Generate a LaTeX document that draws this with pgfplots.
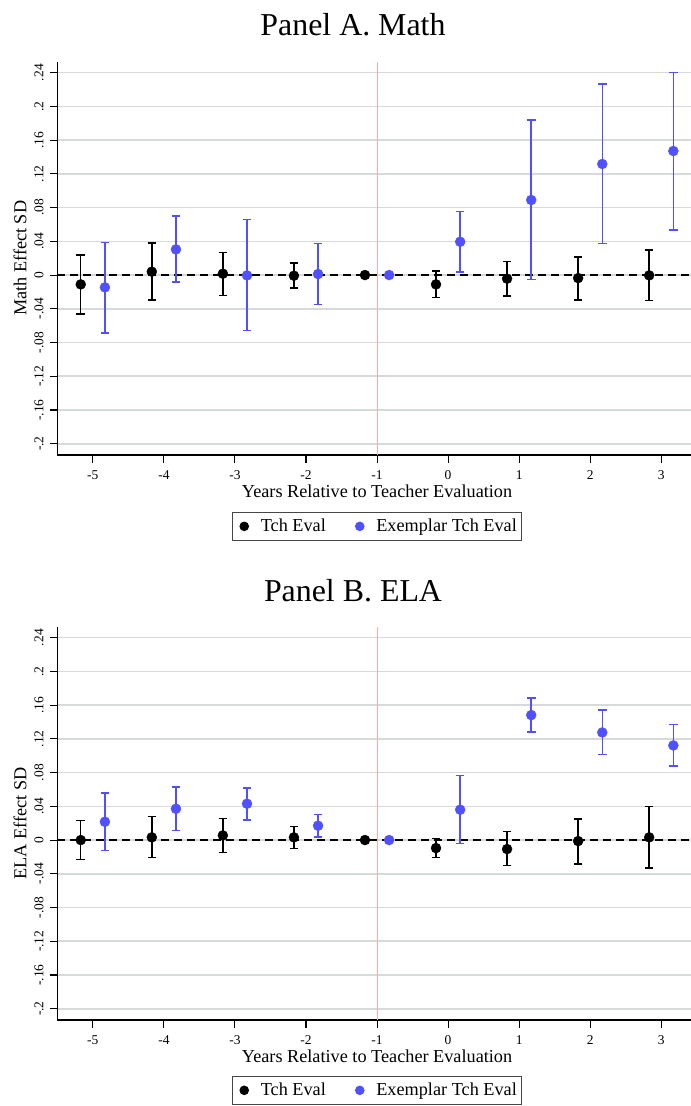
\documentclass[border=0pt]{standalone}
\usepackage{pgfplots}
\pgfplotsset{compat=1.18}
\usepackage{pgfplotstable}
\usepackage{fontspec}
\setmainfont{Liberation Serif}
\definecolor{sblue}{RGB}{80,80,255}
\definecolor{gridc}{RGB}{214,218,218}
\definecolor{vred}{RGB}{255,170,170}
\definecolor{legc}{RGB}{70,70,70}

% Panel A: Math
\pgfplotstableread{
x y hi lo
-5.17 -0.0111 0.0237 -0.0459
-4.17 0.0040 0.0380 -0.0297
-3.17 0.0016 0.0269 -0.0245
-2.17 -0.0008 0.0142 -0.0154
-1.17 0.0000 0.0000 0.0000
-0.17 -0.0111 0.0047 -0.0269
0.83 -0.0043 0.0158 -0.0249
1.83 -0.0036 0.0214 -0.0293
2.83 -0.0004 0.0300 -0.0304
}\mathblack
\pgfplotstableread{
x y hi lo
-4.83 -0.0146 0.0388 -0.0688
-3.83 0.0304 0.0700 -0.0083
-2.83 -0.0004 0.0656 -0.0656
-1.83 0.0012 0.0372 -0.0348
-0.83 0.0000 0.0000 0.0000
0.17 0.0395 0.0751 0.0036
1.17 0.0890 0.1839 -0.0055
2.17 0.1317 0.2266 0.0372
3.17 0.1471 0.2400 0.0534
}\mathblue
% Panel B: ELA
\pgfplotstableread{
x y hi lo
-5.17 0.0000 0.0233 -0.0233
-4.17 0.0032 0.0277 -0.0205
-3.17 0.0055 0.0257 -0.0150
-2.17 0.0032 0.0162 -0.0099
-1.17 0.0000 0.0000 0.0000
-0.17 -0.0095 0.0020 -0.0209
0.83 -0.0107 0.0099 -0.0304
1.83 -0.0012 0.0249 -0.0284
2.83 0.0032 0.0395 -0.0332
}\elablack
\pgfplotstableread{
x y hi lo
-4.83 0.0217 0.0557 -0.0122
-3.83 0.0371 0.0628 0.0115
-2.83 0.0431 0.0620 0.0237
-1.83 0.0170 0.0304 0.0036
-0.83 0.0000 0.0000 0.0000
0.17 0.0360 0.0763 -0.0040
1.17 0.1482 0.1683 0.1280
2.17 0.1276 0.1541 0.1015
3.17 0.1122 0.1371 0.0877
}\elablue

\pgfplotsset{
  panel/.style={
    scale only axis, width=639.5bp, height=393.3bp,
    xmin=-5.5, xmax=3.5, ymin=-0.2134, ymax=0.253,
    axis x line*=bottom, axis y line*=left,
    axis line style={line width=1.1bp, -},
    tick align=outside, major tick length=7.5bp,
    every tick/.style={line width=1.1bp, black},
    xtick={-5,-4,-3,-2,-1,0,1,2,3},
    xticklabels={-5,-4,-3,-2,-1,0,1,2,3},
    ytick={-0.2,-0.16,-0.12,-0.08,-0.04,0,0.04,0.08,0.12,0.16,0.2,0.24},
    yticklabels={-.2,-.16,-.12,-.08,-.04,0,.04,.08,.12,.16,.2,.24},
    /pgf/number format/assume math mode=true,
    ticklabel style={font=\fontsize{13.5}{15}\selectfont},
    yticklabel style={rotate=90, anchor=south, inner sep=6bp},
    xticklabel style={anchor=north, inner sep=4bp, yshift=-3.5bp},
    ymajorgrids, major grid style={gridc, line width=1.6bp},
    xlabel={Years Relative to Teacher Evaluation},
    label style={font=\fontsize{18.3}{21}\selectfont},
    xlabel style={at={(axis description cs:0.5,-0.0933)}, anchor=center},
    ylabel style={at={(axis description cs:-0.0583,0.5)}, anchor=center},
    legend columns=2,
    legend cell align=left,
    legend style={draw=legc, line width=1.1bp, font=\fontsize{18.3}{21}\selectfont,
      inner xsep=2bp, inner ysep=4bp, nodes={inner sep=3bp},
      /tikz/every odd column/.append style={column sep=5bp},
      /tikz/every even column/.append style={column sep=21bp}},
  },
  blk/.style={only marks, mark=*, mark size=5bp, black,
    error bars/y dir=both, error bars/y explicit,
    error bars/error bar style={line width=1.5bp, black},
    error bars/error mark options={rotate=90, line width=1.5bp, mark size=4.3bp, black}},
  blu/.style={only marks, mark=*, mark size=5bp, sblue,
    error bars/y dir=both, error bars/y explicit,
    error bars/error bar style={line width=1.5bp, sblue},
    error bars/error mark options={rotate=90, line width=1.5bp, mark size=4.3bp, sblue}},
  legblk/.style={legend image code/.code={\path (-9.4bp,0bp) (8bp,0bp); \fill[black] (0bp,0bp) circle (4.2bp);}},
  legblu/.style={legend image code/.code={\path (-9.4bp,0bp) (8bp,0bp); \fill[sblue] (0bp,0bp) circle (4.2bp);}},
}

\begin{document}
\begin{tikzpicture}[x=1bp,y=1bp]
\node[font=\fontsize{32}{36}\selectfont, anchor=base] at (353bp,-35bp) {Panel A. Math};
\begin{axis}[panel, at={(57.3bp,-455bp)}, anchor=south west,
  ylabel={Math Effect SD},
  legend style={at={(axis description cs:0.5,-0.1442)}, anchor=north}]
  \draw[vred, line width=0.9bp] (axis cs:-1,-0.2134) -- (axis cs:-1,0.253);
  \addplot[black, line width=1.5bp, dash pattern=on 8bp off 5bp, forget plot] coordinates {(-5.5,0) (3.5,0)};
  \addplot[forget plot, blk] table[x=x, y=y, y error plus expr=\thisrow{hi}-\thisrow{y}, y error minus expr=\thisrow{y}-\thisrow{lo}] {\mathblack};
  \addplot[forget plot, blu] table[x=x, y=y, y error plus expr=\thisrow{hi}-\thisrow{y}, y error minus expr=\thisrow{y}-\thisrow{lo}] {\mathblue};
  \addlegendimage{legblk}
  \addlegendentry{Tch Eval}
  \addlegendimage{legblu}
  \addlegendentry{Exemplar Tch Eval}
\end{axis}
\node[font=\fontsize{32}{36}\selectfont, anchor=base] at (353bp,-601.7bp) {Panel B. ELA};
\begin{axis}[panel, at={(57.3bp,-1020bp)}, anchor=south west,
  ylabel={ELA Effect SD},
  legend style={at={(axis description cs:0.5,-0.1416)}, anchor=north}]
  \draw[vred, line width=0.9bp] (axis cs:-1,-0.2134) -- (axis cs:-1,0.253);
  \addplot[black, line width=1.5bp, dash pattern=on 8bp off 5bp, forget plot] coordinates {(-5.5,0) (3.5,0)};
  \addplot[forget plot, blk] table[x=x, y=y, y error plus expr=\thisrow{hi}-\thisrow{y}, y error minus expr=\thisrow{y}-\thisrow{lo}] {\elablack};
  \addplot[forget plot, blu] table[x=x, y=y, y error plus expr=\thisrow{hi}-\thisrow{y}, y error minus expr=\thisrow{y}-\thisrow{lo}] {\elablue};
  \addlegendimage{legblk}
  \addlegendentry{Tch Eval}
  \addlegendimage{legblu}
  \addlegendentry{Exemplar Tch Eval}
\end{axis}
\pgfresetboundingbox
\useasboundingbox (0bp,0bp) rectangle (691bp,-1106bp);
\end{tikzpicture}
\end{document}
